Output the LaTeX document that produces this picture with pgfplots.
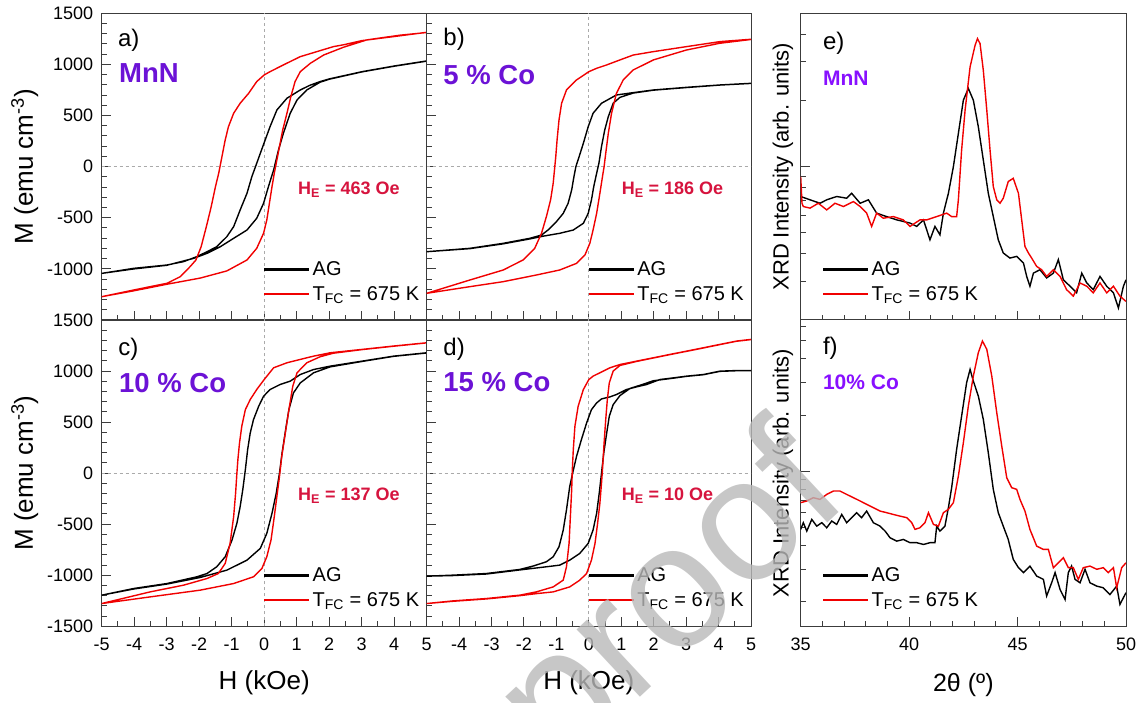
\documentclass[border=0pt]{standalone}
\usepackage{fontspec}
\setmainfont{Liberation Sans}
\usepackage{pgfplots}
\pgfplotsset{compat=1.18}

\definecolor{loopred}{RGB}{240,0,0}
\definecolor{hecrimson}{RGB}{214,20,62}
\definecolor{comppurple}{RGB}{108,18,214}
\definecolor{xrdviolet}{RGB}{136,16,255}
\definecolor{zeroline}{RGB}{170,170,170}
\definecolor{framegray}{RGB}{60,60,60}
\definecolor{wmgray}{RGB}{185,185,185}

\newcommand{\fs}[1]{\fontsize{#1}{#1}\selectfont}

\pgfplotsset{
  panel/.style={
    scale only axis,
    axis line style={line width=1pt, framegray},
    tick style={line width=1pt, framegray},
    tick align=inside, xtick pos=left, ytick pos=left,
    major tick length=9pt, minor tick length=5pt,
    tick label style={font=\fs{18}},
    xticklabel style={yshift=-8pt},
    yticklabel style={xshift=-5pt},
    legend cell align=left,
    legend style={draw=none, fill=none, inner sep=0pt, font=\fs{20}, row sep=5pt},
    legend image code/.code={\draw[#1, line width=2.6pt] (0pt,0pt) -- (45pt,0pt);},
  },
  loop/.style={panel, width=325pt,
    xmin=-5, xmax=5, ymin=-1500, ymax=1500,
    xtick={-5,...,5}, minor x tick num=1,
    ytick={-1500,-1000,...,1500}, minor y tick num=4,
    legend style={at={(0.496,0.053)}, anchor=south west}},
  xrd/.style={panel, width=325.3pt,
    xmin=35, xmax=50,
    xtick={35,40,45,50}, minor x tick num=4,
    ytick={1000}, yticklabels={},
    legend style={at={(0.065,0.053)}, anchor=south west}},
  agline/.style={black, line width=1.4pt},
  tfcline/.style={loopred, line width=1.4pt},
  zl/.style={zeroline, line width=0.8pt, dash pattern=on 3pt off 3pt, forget plot},
  mlab/.style={ylabel={M (emu cm\textsuperscript{-3})},
    ylabel style={at={(axis description cs:-0.237,0.5)}, anchor=center, font=\fs{26}}},
  hlab/.style={xlabel={H (kOe)},
    xlabel style={at={(axis description cs:0.5,-0.185)}, anchor=center, font=\fs{26}}},
}

\begin{document}
\begin{tikzpicture}
\useasboundingbox (0,0) rectangle (1142pt,702pt);

% ---------------- a) MnN ----------------
\begin{axis}[loop, mlab, at={(101.7pt,382pt)}, anchor=south west, height=306.7pt,
  xticklabels={}, yticklabels={,-1000,-500,0,500,1000,1500}]
\addplot[zl] coordinates {(0,-1500) (0,1500)};
\addplot[zl] coordinates {(-5,0) (5,0)};
\addplot[agline] coordinates {
(5.00,1034) (4.01,985) (3.01,929) (2.00,858) (1.72,832) (1.40,795) (1.11,750) (0.70,669)
(0.39,554) (0.18,391) (0.03,261) (-0.12,130) (-0.23,33) (-0.38,-98) (-0.53,-261) (-0.74,-424)
(-0.94,-587) (-1.15,-685) (-1.46,-783) (-1.76,-832) (-2.07,-880) (-2.48,-929) (-2.99,-962)
(-4.02,-995) (-5.00,-1044)
(-4.00,-1000) (-3.00,-965) (-2.17,-897) (-1.76,-848) (-1.35,-783) (-0.94,-701) (-0.53,-620)
(-0.23,-505) (-0.02,-359) (0.13,-196) (0.29,-33) (0.44,163) (0.59,326) (0.80,522) (1.01,652)
(1.31,750) (1.72,826) (2.00,855) (3.01,927) (4.01,983) (5.00,1032)};
\addlegendentry{AG}
\addplot[tfcline] coordinates {
(5.00,1314) (3.98,1272) (3.01,1233) (2.44,1192) (2.13,1174) (1.62,1125) (1.11,1076) (0.59,995)
(0.18,929) (0.00,897) (-0.23,832) (-0.48,717) (-0.74,620) (-0.94,522) (-1.10,391) (-1.20,261)
(-1.30,98) (-1.40,-65) (-1.50,-196) (-1.63,-391) (-1.78,-587) (-1.94,-783) (-2.10,-913)
(-2.28,-978) (-2.58,-1076) (-2.99,-1141) (-3.51,-1174) (-4.02,-1207) (-5.00,-1272)
(-4.02,-1215) (-2.99,-1150) (-1.97,-1090) (-1.15,-1020) (-0.53,-913) (-0.23,-799) (-0.02,-652)
(0.08,-522) (0.16,-359) (0.24,-196) (0.31,-65) (0.39,65) (0.47,196) (0.57,359) (0.70,522)
(0.82,685) (0.95,832) (1.11,929) (1.42,1011) (1.83,1092) (2.44,1168) (3.16,1240) (4.18,1286)
(5.00,1312)};
\addlegendentry{T\textsubscript{FC} = 675 K}
\node[anchor=north west, inner sep=0pt, font=\fs{24}] at (rel axis cs:0.05,0.95) {a)};
\node[anchor=north west, inner sep=0pt, font=\bfseries\fs{27.5}, text=comppurple] at (rel axis cs:0.053,0.838) {MnN};
\node[anchor=base west, inner sep=0pt, font=\bfseries\fs{18}, text=hecrimson] at (rel axis cs:0.604,0.408) {H\textsubscript{E} = 463 Oe};
\end{axis}

% ---------------- b) 5 % Co ----------------
\begin{axis}[loop, at={(426.7pt,382pt)}, anchor=south west, width=324.3pt, height=306.7pt,
  xticklabels={}, yticklabels={}]
\addplot[zl] coordinates {(0,-1500) (0,1500)};
\addplot[zl] coordinates {(-5,0) (5,0)};
\addplot[agline] coordinates {
(5.00,815) (4.04,799) (3.02,776) (1.99,750) (1.37,724) (0.85,701) (0.39,620) (0.13,522)
(-0.02,391) (-0.17,228) (-0.30,98) (-0.40,0) (-0.46,-98) (-0.53,-228) (-0.64,-359) (-0.79,-457)
(-1.00,-538) (-1.26,-620) (-1.46,-669) (-1.82,-701) (-2.64,-750) (-3.67,-799) (-5.00,-832)
(-3.67,-802) (-2.64,-755) (-1.82,-707) (-1.41,-680) (-0.90,-652) (-0.48,-620) (-0.17,-554)
(-0.02,-457) (0.08,-326) (0.15,-196) (0.24,-65) (0.31,33) (0.39,196) (0.49,359) (0.60,489)
(0.75,620) (0.96,678) (1.37,720) (1.99,748) (3.02,774) (4.04,798) (5.00,814)};
\addlegendentry{AG}
\addplot[tfcline] coordinates {
(5.00,1246) (4.04,1223) (3.01,1174) (1.99,1125) (1.37,1092) (0.96,1044) (0.55,995) (0.24,962)
(0.00,929) (-0.38,848) (-0.69,750) (-0.84,620) (-0.92,457) (-0.98,261) (-1.02,98) (-1.05,0)
(-1.10,-163) (-1.18,-326) (-1.31,-489) (-1.46,-652) (-1.67,-799) (-2.03,-913) (-2.64,-1011)
(-3.67,-1109) (-5.00,-1239)
(-3.67,-1174) (-2.64,-1125) (-1.62,-1060) (-0.90,-1011) (-0.38,-946) (-0.12,-864) (0.03,-750)
(0.13,-620) (0.24,-457) (0.34,-261) (0.42,-98) (0.47,0) (0.52,130) (0.60,326) (0.70,522)
(0.85,717) (1.06,848) (1.37,946) (1.99,1044) (3.01,1141) (4.04,1207) (5.00,1244)};
\addlegendentry{T\textsubscript{FC} = 675 K}
\node[anchor=north west, inner sep=0pt, font=\fs{24}] at (rel axis cs:0.051,0.951) {b)};
\node[anchor=north west, inner sep=0pt, font=\bfseries\fs{27.5}, text=comppurple] at (rel axis cs:0.051,0.831) {5 \% Co};
\node[anchor=base west, inner sep=0pt, font=\bfseries\fs{18}, text=hecrimson] at (rel axis cs:0.601,0.408) {H\textsubscript{E} = 186 Oe};
\end{axis}

% ---------------- c) 10 % Co ----------------
\begin{axis}[loop, mlab, hlab, at={(101.7pt,75.7pt)}, anchor=south west, height=306.3pt,
  xticklabels={-5,-4,-3,-2,-1,0,1,2,3,4,5},
  yticklabels={-1500,-1000,-500,0,500,1000,1500}]
\addplot[zl] coordinates {(0,-1500) (0,1500)};
\addplot[zl] coordinates {(-5,0) (5,0)};
\addplot[agline] coordinates {
(5.00,1179) (3.98,1146) (3.01,1097) (2.03,1048) (1.52,1015) (1.11,966) (0.80,901) (0.49,868)
(0.18,819) (-0.02,753) (-0.17,655) (-0.33,524) (-0.43,393) (-0.51,229) (-0.58,33) (-0.66,-164)
(-0.74,-328) (-0.84,-491) (-0.99,-655) (-1.20,-819) (-1.46,-917) (-1.76,-983) (-2.07,-1015)
(-2.99,-1081) (-4.02,-1130) (-5.00,-1195)
(-4.02,-1135) (-2.99,-1086) (-1.97,-1022) (-1.15,-950) (-0.53,-852) (-0.12,-737) (0.08,-590)
(0.24,-393) (0.37,-197) (0.47,0) (0.55,197) (0.66,426) (0.76,622) (0.90,786) (1.11,884)
(1.52,983) (2.03,1041) (3.01,1094) (3.98,1144) (5.00,1177)};
\addlegendentry{AG}
\addplot[tfcline] coordinates {
(5.00,1277) (3.98,1245) (3.01,1212) (2.03,1179) (1.52,1146) (1.11,1114) (0.70,1081) (0.29,1032)
(0.00,917) (-0.23,819) (-0.43,721) (-0.58,622) (-0.69,459) (-0.76,295) (-0.81,131) (-0.84,0)
(-0.88,-197) (-0.94,-426) (-1.05,-688) (-1.20,-884) (-1.41,-983) (-1.76,-1032) (-2.48,-1097)
(-3.51,-1163) (-5.00,-1277)
(-3.51,-1212) (-1.97,-1146) (-0.94,-1081) (-0.33,-1015) (-0.07,-933) (0.08,-819) (0.21,-655)
(0.31,-426) (0.39,-229) (0.47,-33) (0.54,164) (0.65,393) (0.76,622) (0.88,852) (1.01,983)
(1.31,1081) (1.72,1140) (2.13,1175) (3.01,1210) (3.98,1243) (5.00,1276)};
\addlegendentry{T\textsubscript{FC} = 675 K}
\node[anchor=north west, inner sep=0pt, font=\fs{24}] at (rel axis cs:0.051,0.94) {c)};
\node[anchor=north west, inner sep=0pt, font=\bfseries\fs{27.5}, text=comppurple] at (rel axis cs:0.053,0.826) {10 \% Co};
\node[anchor=base west, inner sep=0pt, font=\bfseries\fs{18}, text=hecrimson] at (rel axis cs:0.604,0.41) {H\textsubscript{E} = 137 Oe};
\end{axis}

% ---------------- d) 15 % Co ----------------
\begin{axis}[loop, hlab, at={(426.7pt,75.7pt)}, anchor=south west, width=324.3pt, height=306.3pt,
  xticklabels={,-4,-3,-2,-1,0,1,2,3,4,5}, yticklabels={}]
\addplot[zl] coordinates {(0,-1500) (0,1500)};
\addplot[zl] coordinates {(-5,0) (5,0)};
\addplot[agline] coordinates {
(5.00,1005) (4.56,1005) (4.04,999) (3.53,966) (3.01,950) (2.60,933) (2.19,917) (1.78,868)
(1.47,845) (1.16,819) (0.85,770) (0.65,747) (0.39,727) (0.24,688) (0.08,622) (-0.07,491)
(-0.23,328) (-0.38,164) (-0.50,0) (-0.59,-131) (-0.69,-360) (-0.79,-557) (-0.92,-721)
(-1.10,-819) (-1.31,-868) (-1.72,-910) (-2.13,-943) (-3.16,-983) (-4.19,-999) (-5.00,-1009)
(-4.19,-1003) (-3.16,-988) (-2.13,-948) (-1.31,-917) (-0.90,-901) (-0.59,-852) (-0.28,-786)
(-0.02,-688) (0.13,-557) (0.24,-393) (0.32,-197) (0.39,0) (0.46,197) (0.55,393) (0.63,557)
(0.75,671) (0.96,760) (1.27,830) (1.57,860) (1.99,905) (2.60,930) (3.01,948) (3.53,964)
(4.04,997) (4.56,1003) (5.00,1004)};
\addlegendentry{AG}
\addplot[tfcline] coordinates {
(5.00,1310) (4.56,1294) (4.04,1261) (3.53,1228) (3.01,1195) (2.50,1163) (1.99,1130) (1.47,1097)
(0.96,1064) (0.65,1032) (0.34,983) (0.13,950) (0.00,917) (-0.17,819) (-0.33,655) (-0.43,459)
(-0.48,229) (-0.51,33) (-0.53,-164) (-0.57,-426) (-0.61,-688) (-0.69,-917) (-0.79,-1048)
(-1.10,-1114) (-1.62,-1163) (-2.13,-1195) (-3.16,-1228) (-4.19,-1251) (-5.00,-1277)
(-4.19,-1255) (-3.16,-1232) (-2.13,-1200) (-1.62,-1180) (-1.10,-1163) (-0.59,-1114) (-0.28,-1048)
(-0.07,-983) (0.08,-852) (0.19,-688) (0.27,-491) (0.34,-295) (0.39,-98) (0.42,33) (0.47,295)
(0.52,524) (0.57,721) (0.63,884) (0.75,1000) (0.96,1055) (1.47,1094) (1.99,1128) (2.50,1161)
(3.01,1193) (3.53,1226) (4.04,1259) (4.56,1292) (5.00,1308)};
\addlegendentry{T\textsubscript{FC} = 675 K}
\node[anchor=north west, inner sep=0pt, font=\fs{24}] at (rel axis cs:0.051,0.94) {d)};
\node[anchor=north west, inner sep=0pt, font=\bfseries\fs{27.5}, text=comppurple] at (rel axis cs:0.051,0.831) {15 \% Co};
\node[anchor=base west, inner sep=0pt, font=\bfseries\fs{18}, text=hecrimson] at (rel axis cs:0.601,0.41) {H\textsubscript{E} = 10 Oe};
\end{axis}

% ---------------- e) XRD, MnN ----------------
\begin{axis}[ymode=log, xrd, at={(800.7pt,382pt)}, anchor=south west, height=306.7pt,
  ymin=200, ymax=5000, minor ytick={200,300,...,900,2000,3000,4000,5000},
  xticklabels={},
  ylabel={XRD Intensity (arb. units)},
  ylabel style={at={(axis description cs:-0.055,0.5)}, anchor=center, font=\fs{22}}]
\addplot[agline] coordinates {
(35.00,731) (35.43,706) (35.89,681) (36.20,706) (36.66,731) (37.12,718) (37.35,756) (37.74,681)
(38.12,706) (38.50,614) (38.96,592) (39.43,572) (40.04,553) (40.35,534) (40.66,572) (40.96,464)
(41.19,534) (41.42,489) (41.58,614) (41.81,756) (42.04,1000) (42.27,1417) (42.50,2009) (42.73,2271)
(42.96,2009) (43.19,1520) (43.42,1072) (43.65,756) (43.88,592) (44.11,464) (44.34,404) (44.65,383)
(44.96,390) (45.27,364) (45.42,316) (45.57,285) (45.73,327) (46.03,339) (46.34,311) (46.65,327)
(46.88,377) (47.11,305) (47.42,285) (47.72,266) (47.96,327) (48.19,295) (48.49,275) (48.80,316)
(49.11,285) (49.42,266) (49.65,227) (49.88,285) (50.00,305)};
\addlegendentry{AG}
\addplot[tfcline] coordinates {
(35.00,901) (35.06,680) (35.12,658) (35.43,647) (35.81,681) (36.20,635) (36.58,681) (36.97,658)
(37.43,693) (37.74,658) (38.04,614) (38.27,534) (38.50,614) (38.81,582) (39.27,592) (39.73,572)
(40.04,534) (40.50,572) (40.81,572) (41.27,592) (41.73,614) (41.96,592) (42.19,592) (42.27,706)
(42.42,1191) (42.58,1810) (42.81,2848) (43.04,3573) (43.15,3831) (43.27,3636) (43.42,2750)
(43.58,1810) (43.73,1191) (43.88,811) (44.04,706) (44.19,681) (44.34,718) (44.57,855) (44.80,885)
(45.04,756) (45.19,572) (45.34,433) (45.50,404) (45.65,383) (45.88,351) (46.11,339) (46.34,316)
(46.65,339) (46.96,316) (47.26,275) (47.57,257) (47.88,295) (48.19,285) (48.49,266) (48.80,295)
(49.11,266) (49.42,285) (49.72,257) (50.00,243)};
\addlegendentry{T\textsubscript{FC} = 675 K}
\node[anchor=north west, inner sep=0pt, font=\fs{24}] at (rel axis cs:0.068,0.94) {e)};
\node[anchor=north west, inner sep=0pt, font=\bfseries\fs{21}, text=xrdviolet] at (rel axis cs:0.068,0.813) {MnN};
\end{axis}

% ---------------- f) XRD, 10 % Co ----------------
\begin{axis}[ymode=log, xrd, at={(800.7pt,75.7pt)}, anchor=south west, height=306.3pt,
  ymin=148, ymax=6470, minor ytick={200,300,...,900,2000,3000,4000,5000,6000},
  xticklabels={35,40,45,50},
  xlabel={2θ (º)},
  xlabel style={at={(axis description cs:0.5,-0.192)}, anchor=center, font=\fs{25}},
  ylabel={XRD Intensity (arb. units)},
  ylabel style={at={(axis description cs:-0.055,0.5)}, anchor=center, font=\fs{22}}]
\addplot[agline] coordinates {
(35.00,489) (35.12,531) (35.28,479) (35.51,553) (35.74,509) (35.97,531) (36.20,499) (36.43,542)
(36.66,520) (36.89,588) (37.12,531) (37.35,565) (37.58,601) (37.81,565) (38.04,613) (38.35,531)
(38.66,509) (38.89,479) (39.12,441) (39.43,423) (39.73,432) (40.04,415) (40.35,415) (40.66,406)
(40.96,415) (41.19,415) (41.27,509) (41.42,479) (41.65,509) (41.81,639) (41.96,818) (42.19,1312)
(42.42,1979) (42.65,2985) (42.81,3518) (42.96,3047) (43.19,2533) (43.42,1899) (43.65,1259)
(43.88,801) (44.11,601) (44.34,509) (44.57,432) (44.80,338) (45.04,305) (45.27,287) (45.57,311)
(45.88,275) (46.19,264) (46.34,215) (46.57,253) (46.73,287) (46.96,233) (47.19,206) (47.34,287)
(47.49,311) (47.65,264) (47.88,253) (48.11,299) (48.34,253) (48.65,243) (48.95,238) (49.26,219)
(49.57,243) (49.72,194) (50.00,224)};
\addlegendentry{AG}
\addplot[tfcline] coordinates {
(35.00,680) (35.28,694) (35.58,723) (35.89,708) (36.20,753) (36.51,785) (36.81,785) (37.12,753)
(37.43,723) (37.74,694) (38.04,666) (38.35,639) (38.66,613) (38.96,601) (39.27,588) (39.58,576)
(39.89,565) (40.12,531) (40.27,489) (40.50,499) (40.73,531) (40.89,601) (41.12,520) (41.35,509)
(41.58,601) (41.81,626) (42.04,680) (42.27,944) (42.50,1424) (42.73,2239) (42.96,3242) (43.19,4322)
(43.38,4991) (43.58,4505) (43.81,3242) (44.04,2062) (44.27,1367) (44.50,925) (44.73,818) (44.96,801)
(45.11,708) (45.34,613) (45.57,489) (45.88,398) (46.19,382) (46.42,382) (46.65,305) (46.88,324)
(47.11,345) (47.34,305) (47.57,305) (47.80,264) (48.03,305) (48.34,311) (48.65,299) (48.95,305)
(49.18,287) (49.42,305) (49.57,238) (49.80,305) (50.00,324)};
\addlegendentry{T\textsubscript{FC} = 675 K}
\node[anchor=north west, inner sep=0pt, font=\fs{24}] at (rel axis cs:0.068,0.945) {f)};
\node[anchor=north west, inner sep=0pt, font=\bfseries\fs{21}, text=xrdviolet] at (rel axis cs:0.068,0.82) {10\% Co};
\end{axis}

% diagonal pre-proof watermark across the figure
\begin{scope}
\clip (0,0) rectangle (1142pt,702pt);
\node[rotate=43, text=wmgray, opacity=0.8, font=\fs{175}] at (327pt,-226pt) {Journal Pre-proof};
\end{scope}
\end{tikzpicture}
\end{document}
